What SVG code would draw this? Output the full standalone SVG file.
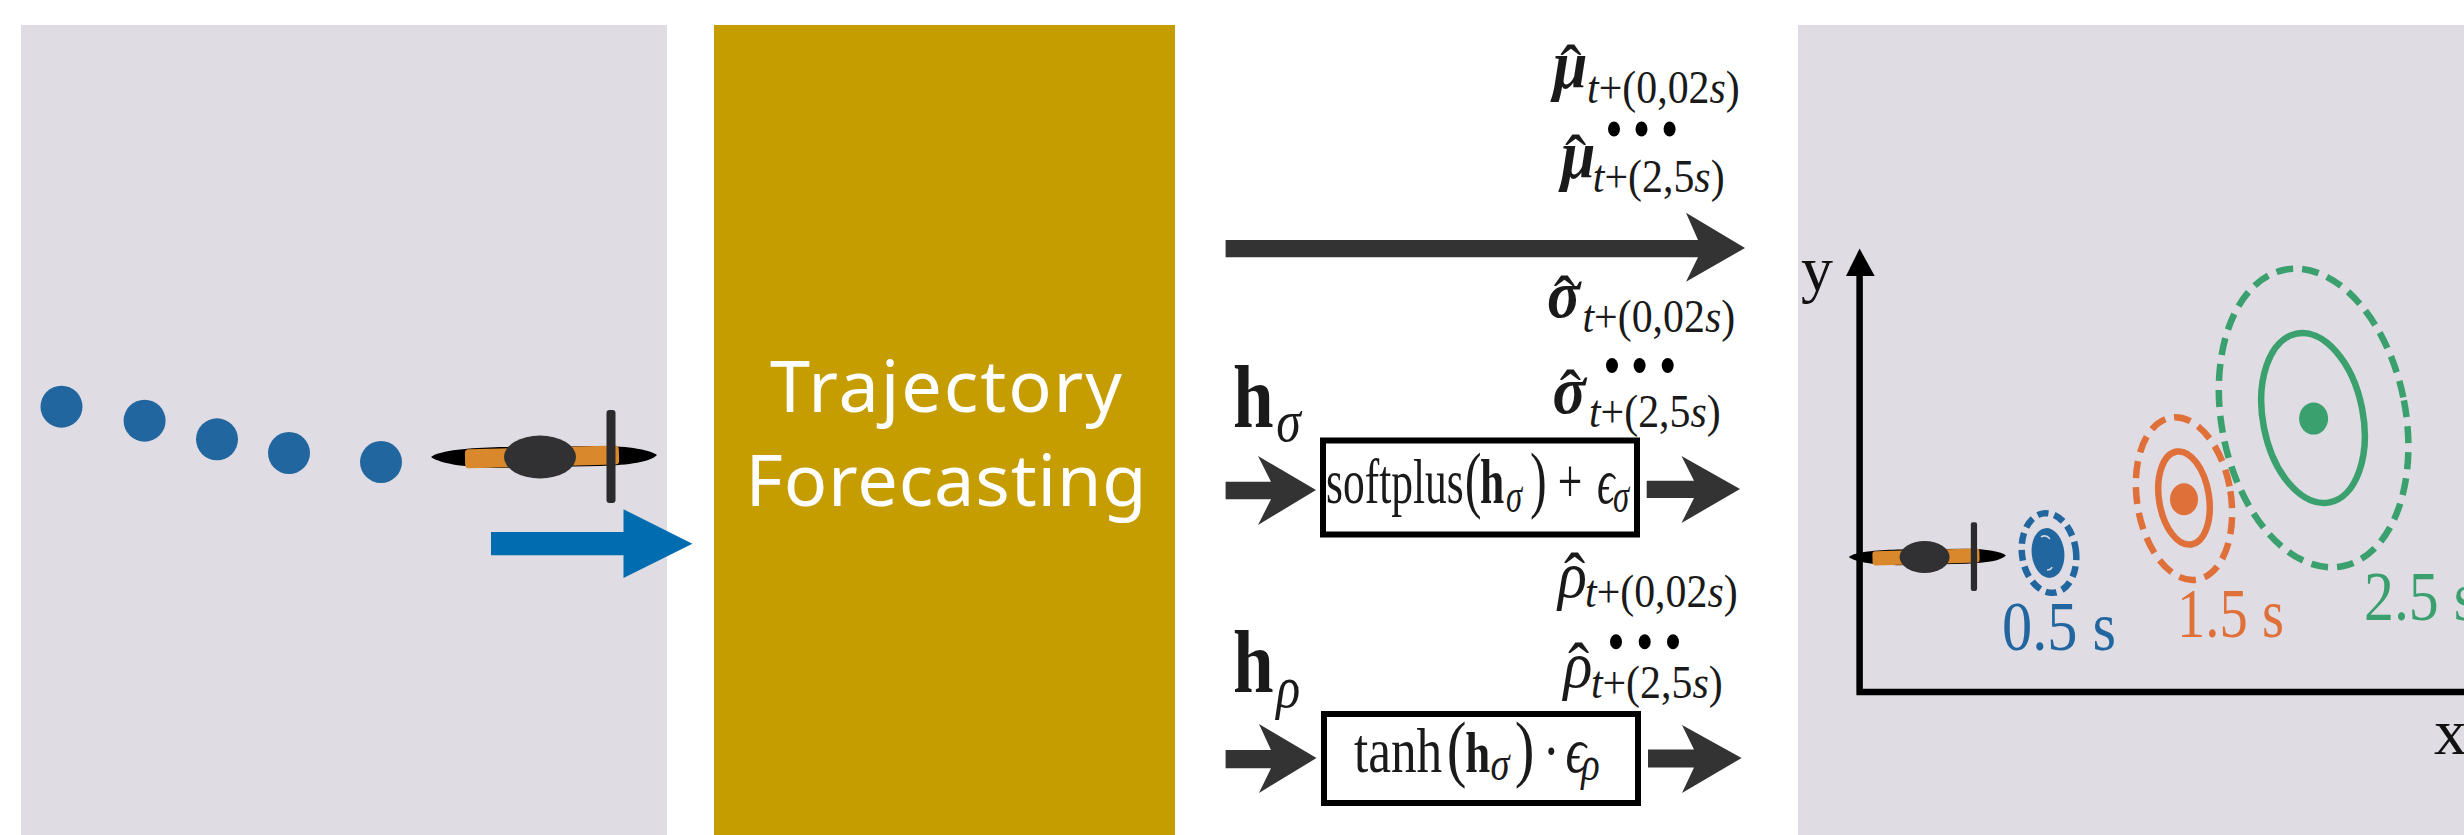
<svg xmlns="http://www.w3.org/2000/svg" width="2464" height="835" viewBox="0 0 2464 835">
<style>
.panel{fill:#dfdce3}
.dot{fill:#22669f}
.bd{fill:#000}
.m{font-family:"Liberation Serif","DejaVu Serif",serif;fill:#1a1a1a}
.big{font-size:68px;font-weight:bold;font-style:italic}
.rho{font-size:66px;font-style:italic}
.hat{font-size:70px;font-weight:normal;font-style:normal}
.sub{font-size:46px}
.i{font-style:italic}
.b{font-weight:bold}
.fn{font-size:64px}
.par{font-size:74px}
.fs{font-size:48px;font-style:italic}
.h{font-size:88px;font-weight:bold}
.hs{font-size:60px;font-style:italic}
.ar{fill:#333}
.box{fill:#fff;stroke:#000;stroke-width:6}
.ax{stroke:#000;stroke-width:6.5;fill:none}
.lab{font-family:"Liberation Serif",serif;font-size:70px}
.e{fill:none;stroke-width:6.5}
.dash{stroke-dasharray:17 9}
</style>
<defs>
<g id="vehicle">
<path fill="#000" d="M-109 0C-100-7-70-9-40-10L60-11C90-11 110-7 117-2 110 5 90 8 60 9L-40 11C-70 11-100 7-109 0Z"/>
<rect x="-75" y="-9.5" width="154" height="19" rx="4" fill="#d9892c" transform="rotate(-1.5)"/>
<rect x="66.5" y="-47" width="9" height="93" rx="3" fill="#2b2b2e"/>
<ellipse cx="0" cy="0" rx="36" ry="21.5" fill="#313033"/>
</g>
</defs>
<rect width="2464" height="835" fill="#fff"/>

<g id="history-panel">
<rect class="panel" x="21" y="25" width="646" height="810"/>
<circle class="dot" cx="61.5" cy="406.7" r="21"/>
<circle class="dot" cx="144.6" cy="420.7" r="21"/>
<circle class="dot" cx="217" cy="439.3" r="21"/>
<circle class="dot" cx="289" cy="453" r="21"/>
<circle class="dot" cx="381" cy="462" r="21"/>
<use href="#vehicle" transform="translate(540 457)"/>
</g>

<g id="forecasting-node">
<rect x="714" y="25" width="461" height="810" fill="#c59d00"/>
<text x="946" y="412" text-anchor="middle" font-family="'Noto Sans','Open Sans',sans-serif" font-size="72" fill="#fff" textLength="352">Trajectory</text>
<text x="946" y="506" text-anchor="middle" font-family="'Noto Sans','Open Sans',sans-serif" font-size="72" fill="#fff" textLength="401">Forecasting</text>
</g>

<g id="mu-outputs" class="m">
<text transform="translate(1553 0) scale(.91 1)"><tspan class="big" x="0" y="88">μ</tspan><tspan class="hat" x="8" y="93">ˆ</tspan><tspan class="sub" x="37.5" y="103"><tspan class="i">t</tspan>+(0,02<tspan class="i">s</tspan>)</tspan></text>
<ellipse class="bd" cx="1614" cy="129" rx="6" ry="7.5"/><ellipse class="bd" cx="1641.5" cy="129" rx="6" ry="7.5"/><ellipse class="bd" cx="1669.6" cy="129" rx="6" ry="7.5"/>
<text transform="translate(1561 0) scale(.91 1)"><tspan class="big" x="0" y="178">μ</tspan><tspan class="hat" x="4.5" y="183">ˆ</tspan><tspan class="sub" x="35" y="192"><tspan class="i">t</tspan>+(2,5<tspan class="i">s</tspan>)</tspan></text>
</g>

<g id="sigma-outputs" class="m">
<text transform="translate(1547 0) scale(.91 1)"><tspan class="big" x="0" y="317">σ</tspan><tspan class="hat" x="7.5" y="324">ˆ</tspan><tspan class="sub" x="39" y="332"><tspan class="i">t</tspan>+(0,02<tspan class="i">s</tspan>)</tspan></text>
<ellipse class="bd" cx="1612" cy="365.5" rx="6" ry="7.5"/><ellipse class="bd" cx="1639.6" cy="365.5" rx="6" ry="7.5"/><ellipse class="bd" cx="1667.7" cy="365.5" rx="6" ry="7.5"/>
<text transform="translate(1552.6 0) scale(.91 1)"><tspan class="big" x="0" y="413">σ</tspan><tspan class="hat" x="8" y="418">ˆ</tspan><tspan class="sub" x="40" y="427"><tspan class="i">t</tspan>+(2,5<tspan class="i">s</tspan>)</tspan></text>
</g>

<g id="softplus-node" class="m">
<text transform="translate(1233 0) scale(.83 1)"><tspan class="h" x="0" y="427">h</tspan><tspan class="hs" x="52" y="441">σ</tspan></text>
<rect class="box" x="1323" y="440.5" width="314" height="94"/>
<text transform="translate(1326 0) scale(.68 1)"><tspan class="fn" x="0" y="503">softplus</tspan><tspan class="par" x="204" y="504">(</tspan><tspan class="fn b" x="226.5" y="503">h</tspan><tspan class="fs" x="264.7" y="512">σ</tspan><tspan class="par" x="300" y="504">)</tspan><tspan class="fn" x="341" y="503">+</tspan><tspan class="fn i" x="398.5" y="503">ϵ</tspan><tspan class="fs" x="422" y="512">σ</tspan></text>
</g>

<g id="rho-outputs" class="m">
<text transform="translate(1558 0) scale(.91 1)"><tspan class="rho" x="0" y="597">ρ</tspan><tspan class="hat" x="6.5" y="601">ˆ</tspan><tspan class="sub" x="29.7" y="607"><tspan class="i">t</tspan>+(0,02<tspan class="i">s</tspan>)</tspan></text>
<ellipse class="bd" cx="1616" cy="641.7" rx="6" ry="7.5"/><ellipse class="bd" cx="1644.7" cy="641.7" rx="6" ry="7.5"/><ellipse class="bd" cx="1673" cy="641.7" rx="6" ry="7.5"/>
<text transform="translate(1563.6 0) scale(.91 1)"><tspan class="rho" x="0" y="687">ρ</tspan><tspan class="hat" x="4.8" y="691">ˆ</tspan><tspan class="sub" x="30" y="698"><tspan class="i">t</tspan>+(2,5<tspan class="i">s</tspan>)</tspan></text>
</g>

<g id="tanh-node" class="m">
<text transform="translate(1233 0) scale(.83 1)"><tspan class="h" x="0" y="692">h</tspan><tspan class="hs" x="52" y="707">ρ</tspan></text>
<rect class="box" x="1324" y="714" width="314" height="89"/>
<text transform="translate(1354 0) scale(.8 1)"><tspan class="fn" x="0" y="772">tanh</tspan><tspan class="par" x="116" y="773">(</tspan><tspan class="fn b" style="font-size:56px" x="139" y="772">h</tspan><tspan class="fs" x="170.6" y="780">σ</tspan><tspan class="par" x="201" y="773">)</tspan><tspan class="fn" x="236" y="772">·</tspan><tspan class="fn i" x="264.5" y="772">ϵ</tspan><tspan class="fs" x="284" y="780">ρ</tspan></text>
</g>

<g id="plot-panel">
<rect class="panel" x="1798" y="25" width="666" height="810"/>
<path class="ax" d="M1859.6 692V270M1856.4 692H2464"/>
<path d="M1859.6 248.6L1874.7 276H1846Z" fill="#000"/>
<text class="lab" style="font-size:64px" x="1801" y="290" fill="#111">y</text>
<text class="lab" style="font-size:66px" x="2434" y="754" fill="#111">x</text>
<use href="#vehicle" transform="translate(1924.6 557) scale(.695 .74)"/>
</g>

<g id="pred-05" stroke="#22669f">
<ellipse class="e" cx="2049" cy="553" rx="27" ry="40" transform="rotate(-8 2049 553)" stroke-dasharray="11 6"/>
<ellipse cx="2048" cy="553" rx="16.3" ry="25" fill="#22669f" stroke="none" transform="rotate(-6 2048 553)"/>
<path d="M2041 537q5-3 9 2M2052 567q-1 3-5 3" fill="none" stroke="#cfd6e3" stroke-width="1.5"/>
<text class="lab" x="2002" y="650" fill="#22669f" stroke="none" textLength="114" lengthAdjust="spacingAndGlyphs">0.5 s</text>
</g>

<g id="pred-15" stroke="#e0703a">
<ellipse class="e dash" cx="2184" cy="498.6" rx="47" ry="82" transform="rotate(-9 2184 498.6)"/>
<ellipse class="e" cx="2184" cy="498" rx="25" ry="47" transform="rotate(-9 2184 498)"/>
<ellipse cx="2184" cy="499.3" rx="14" ry="16" fill="#e0703a" stroke="none"/>
<text class="lab" x="2177" y="637" fill="#e0703a" stroke="none" textLength="107" lengthAdjust="spacingAndGlyphs">1.5 s</text>
</g>

<g id="pred-25" stroke="#3aa06e">
<ellipse class="e dash" cx="2313.6" cy="418" rx="92" ry="151" transform="rotate(-11 2313.6 418)"/>
<ellipse class="e" cx="2313" cy="418" rx="50" ry="86" transform="rotate(-11 2313 418)"/>
<ellipse cx="2313.6" cy="418.6" rx="14.5" ry="16" fill="#3aa06e" stroke="none"/>
<text class="lab" x="2364" y="620" fill="#3aa06e" stroke="none" textLength="113" lengthAdjust="spacingAndGlyphs">2.5 s</text>
</g>

<g id="connectors">
<path fill="#026cb0" d="M491 532H623.5V509.3L692.4 543.7 623.5 578V555.3H491Z"/>
<path class="ar" d="M1225.6 240H1698L1686 212.7 1745 248 1686 281.7 1698 257.3H1225.6Z"/>
<path class="ar" d="M1225.6 481.7H1271L1258 456 1316 490 1258 525 1271 499.3H1225.6Z"/>
<path class="ar" d="M1646.7 480.7H1694L1681.5 456 1740 489 1681.5 523 1694 498H1646.7Z"/>
<path class="ar" d="M1225.6 750H1271L1259 724 1316.5 758 1259 793 1271 768.3H1225.6Z"/>
<path class="ar" d="M1648 749.5H1694L1682 725 1741.6 758 1682 793 1694 767.5H1648Z"/>
</g>
</svg>
